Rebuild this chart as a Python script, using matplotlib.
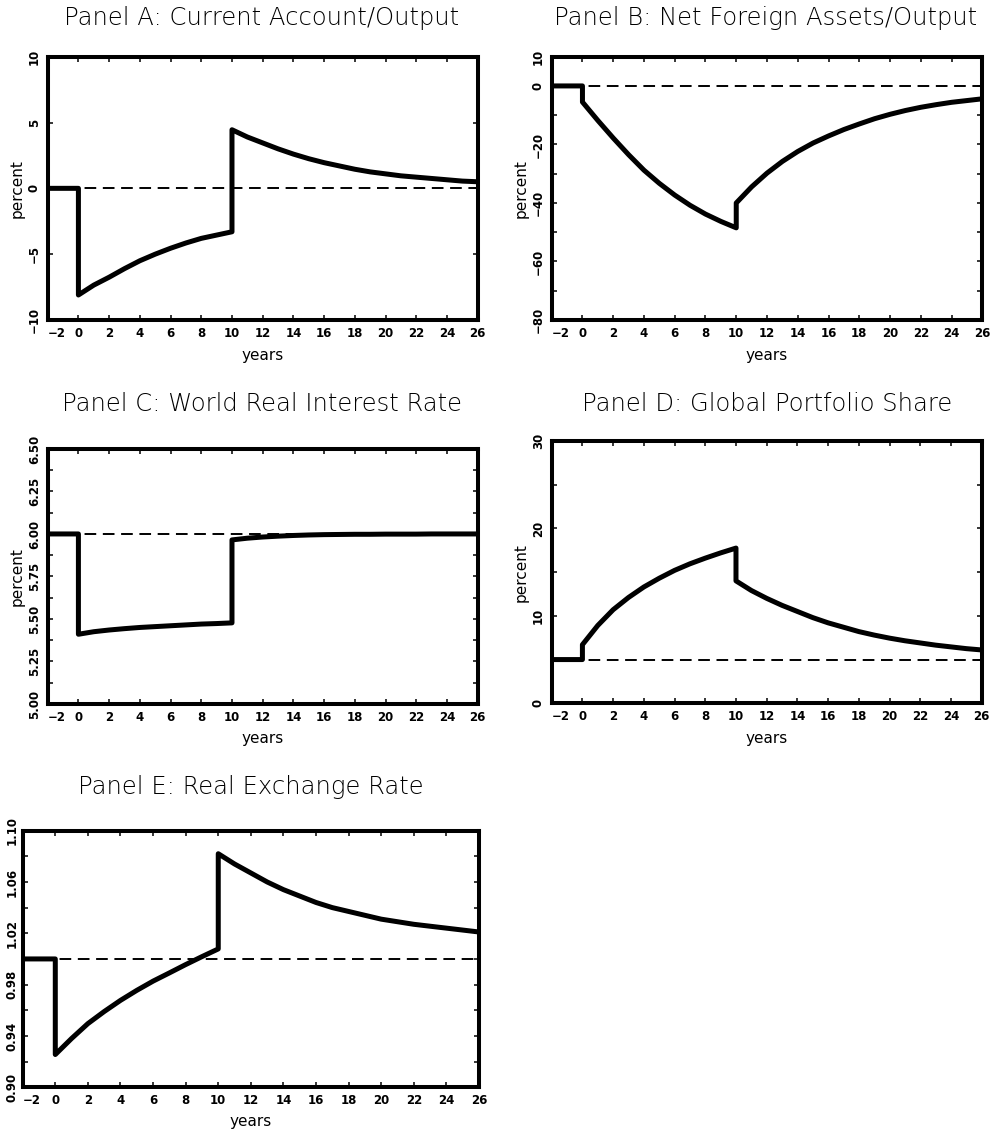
import numpy as np
import matplotlib
matplotlib.use('Agg')
import matplotlib.pyplot as plt
import matplotlib.transforms as mtransforms

# years after the shock, one path for 0..10 and one after the reversal at 10
years_mid = [0, 1, 2, 3, 4, 5, 6, 7, 8, 9, 10]
years_post = [10, 11, 12, 13, 14, 15, 16, 17, 18, 19, 20, 21, 22, 23, 24, 25, 26]
years_pre = [-2, 0]
xticks = [-2, 0, 2, 4, 6, 8, 10, 12, 14, 16, 18, 20, 22, 24, 26]

# Panel A: current account / output (percent)
ca_ss = 0.0
ca_mid = [-8.1, -7.35, -6.75, -6.1, -5.5, -5.0, -4.55, -4.15, -3.8, -3.55, -3.3]
ca_post = [4.45, 3.9, 3.45, 3.0, 2.6, 2.25, 1.95, 1.7, 1.45, 1.25, 1.1,
           0.95, 0.85, 0.75, 0.65, 0.55, 0.5]

# Panel B: net foreign assets / output (percent)
nfa_ss = 0.0
nfa_mid = [-5.5, -11.8, -17.8, -23.5, -28.8, -33.3, -37.3, -40.8, -43.8, -46.3, -48.5]
nfa_post = [-40.0, -34.5, -29.8, -25.8, -22.4, -19.5, -17.1, -14.9, -13.0, -11.2,
            -9.7, -8.4, -7.3, -6.4, -5.6, -5.0, -4.4]

# Panel C: world real interest rate (percent)
r_ss = 6.0
r_mid = [5.41, 5.425, 5.435, 5.443, 5.45, 5.455, 5.46, 5.465, 5.47, 5.473, 5.477]
r_post = [5.965, 5.975, 5.982, 5.987, 5.991, 5.994, 5.996, 5.997, 5.998, 5.998,
          5.999, 5.999, 5.999, 6.0, 6.0, 6.0, 6.0]

# Panel D: global portfolio share (percent)
ps_ss = 5.0
ps_mid = [6.7, 8.9, 10.7, 12.1, 13.3, 14.3, 15.2, 15.95, 16.6, 17.2, 17.75]
ps_post = [14.0, 12.9, 12.0, 11.2, 10.5, 9.8, 9.2, 8.7, 8.2, 7.8, 7.45,
           7.15, 6.9, 6.65, 6.45, 6.25, 6.1]

# Panel E: real exchange rate
rer_ss = 1.0
rer_mid = [0.9255, 0.938, 0.9496, 0.959, 0.9677, 0.9755, 0.9827, 0.9891, 0.9956, 1.0018, 1.0078]
rer_post = [1.082, 1.074, 1.067, 1.060, 1.054, 1.049, 1.044, 1.040, 1.037, 1.034,
            1.031, 1.029, 1.027, 1.0255, 1.024, 1.0225, 1.021]

titles = ['Panel A: Current Account/Output', 'Panel B: Net Foreign Assets/Output',
          'Panel C: World Real Interest Rate', 'Panel D: Global Portfolio Share',
          'Panel E: Real Exchange Rate']

MINUS = '\u2212'


def fmt(v):
    return v.replace('-', MINUS)


def path(ss, mid, post):
    x = years_pre + years_mid + years_post
    y = [ss, ss] + mid + post
    return x, y


def panel(rect, ss, mid, post, ylim, major, minor, labels, percent=True, ypad=5):
    ax = fig.add_axes(rect)
    ax.axhline(ss, color='black', lw=1.4, dashes=(6, 3.4), zorder=2)
    x, y = path(ss, mid, post)
    ax.plot(x, y, color='black', lw=3.6, solid_joinstyle='round', zorder=3)
    ax.set_xlim(-2, 26)
    ax.set_ylim(*ylim)
    ax.set_xticks(xticks)
    ax.set_xticklabels([fmt(str(t)) for t in xticks])
    ax.set_yticks(major)
    ax.set_yticklabels([fmt(l) for l in labels])
    ax.set_yticks(minor, minor=True)
    for s in ax.spines.values():
        s.set_linewidth(2.9)
    ax.tick_params(which='both', direction='in', top=True, right=True,
                   length=3.6, width=1.1, labelsize=8.5)
    ax.tick_params(axis='x', pad=5)
    ax.tick_params(axis='y', pad=ypad, labelrotation=90)
    for lab in ax.get_xticklabels() + ax.get_yticklabels():
        lab.set_fontweight('bold')
    for lab in ax.get_yticklabels():
        lab.set_va('center')
    # the first x label sits a little to the right of the corner
    first = ax.get_xticklabels()[0]
    first.set_transform(first.get_transform() +
                        mtransforms.ScaledTranslation(9 / 100, 0, fig.dpi_scale_trans))
    ax.set_xlabel('years', fontsize=11, va='center')
    ax.xaxis.set_label_coords(0.5, -0.135)
    if percent:
        ax.set_ylabel('percent', fontsize=11, va='center')
        ax.yaxis.set_label_coords(-0.07, 0.5)
    return ax


fig = plt.figure(figsize=(10, 11.38), dpi=100)

panel([0.0477, 0.7188, 0.430, 0.2314], ca_ss, ca_mid, ca_post, (-10, 10),
      [-10, -5, 0, 5, 10], [], ['-10', '-5', '0', '5', '10'])
panel([0.5517, 0.7188, 0.4306, 0.2314], nfa_ss, nfa_mid, nfa_post, (-80, 10),
      [-80, -60, -40, -20, 0, 10], [-70, -50, -30, -10],
      ['-80', '-60', '-40', '-20', '0', '10'])
panel([0.0477, 0.3814, 0.430, 0.2241], r_ss, r_mid, r_post, (5.0, 6.5),
      [5.0, 5.25, 5.5, 5.75, 6.0, 6.25, 6.5],
      [5.125, 5.375, 5.625, 5.875, 6.125, 6.375],
      ['5.00', '5.25', '5.50', '5.75', '6.00', '6.25', '6.50'])
panel([0.5517, 0.3820, 0.430, 0.2305], ps_ss, ps_mid, ps_post, (0, 30),
      [0, 10, 20, 30], [5, 15, 25], ['0', '10', '20', '30'])
panel([0.0227, 0.0446, 0.4563, 0.2255], rer_ss, rer_mid, rer_post, (0.9, 1.1),
      [0.90, 0.94, 0.98, 1.02, 1.06, 1.10], [0.92, 0.96, 1.00, 1.04, 1.08],
      ['0.90', '0.94', '0.98', '1.02', '1.06', '1.10'], percent=False, ypad=3)

# titles, centred over each panel
title_xy = [(262, 18), (766, 18), (262, 404), (767, 404), (251, 787)]
for (px, py), t in zip(title_xy, titles):
    fig.text(px / 1000, 1 - py / 1138, t, ha='center', va='center',
             fontsize=17.5, fontweight='light', family='DejaVu Sans', color='black')

fig.savefig('out.png', dpi=100)
